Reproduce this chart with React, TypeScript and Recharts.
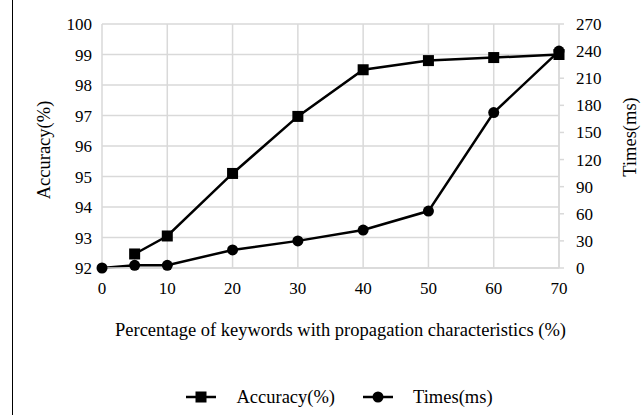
import { LineChart, Line, XAxis, YAxis, CartesianGrid, Legend } from 'recharts'

const xValues = [0, 5, 10, 20, 30, 40, 50, 60, 70]
const accuracy = [null, 92.46, 93.05, 95.1, 96.97, 98.5, 98.8, 98.9, 99.0]
const times = [0, 3, 3, 20, 30, 42, 63, 172, 240]

const xTicks = [0, 10, 20, 30, 40, 50, 60, 70]
const accTicks = [92, 93, 94, 95, 96, 97, 98, 99, 100]
const timeTicks = [0, 30, 60, 90, 120, 150, 180, 210, 240, 270]

const data = xValues.map((x, i) => ({ x, accuracy: accuracy[i], times: times[i] }))

const FONT = 'Liberation Serif'
const GRID = '#d9d9d9'

function SquareDot(props: any) {
  const { cx, cy } = props
  if (cx == null || cy == null) return null
  return <rect x={cx - 5.5} y={cy - 5.5} width={11} height={11} fill="#000" />
}

// tick text in the serif face
function SerifTick({ x, y, payload, textAnchor, verticalAnchor }: any) {
  const dy = verticalAnchor === 'start' ? '0.71em' : '0.355em'
  return (
    <text x={x} y={y} dy={dy} textAnchor={textAnchor} fontFamily={FONT} fontSize={17} fill="#000">
      {payload.value}
    </text>
  )
}

function VLabel({ viewBox, value, dx, dy }: any) {
  const cx = viewBox.x + dx
  const cy = viewBox.y + viewBox.height / 2 + (dy ?? 0)
  return (
    <text x={cx} y={cy} transform={`rotate(-90 ${cx} ${cy})`} textAnchor="middle" dominantBaseline="central"
      fontFamily={FONT} fontSize={18.5} fill="#000">{value}</text>
  )
}

function XLabel({ viewBox, value }: any) {
  const cx = viewBox.x + viewBox.width / 2 + 10
  return (
    <text x={cx} y={viewBox.y + 68} textAnchor="middle" fontFamily={FONT} fontSize={18.5} fill="#000">{value}</text>
  )
}

function LegendContent() {
  const items = [
    { name: 'Accuracy(%)', square: true },
    { name: 'Times(ms)', square: false },
  ]
  return (
    <div style={{ height: 30, display: 'flex', justifyContent: 'center', alignItems: 'center', paddingLeft: 38, fontFamily: FONT, fontSize: 18.5, color: '#000' }}>
      {items.map((it, i) => (
        <div key={it.name} style={{ display: 'flex', alignItems: 'center', marginLeft: i ? 28 : 0 }}>
          <svg width={30} height={14}>
            <line x1={0} y1={7} x2={30} y2={7} stroke="#000" strokeWidth={2.5} />
            {it.square ? <rect x={9.5} y={1.5} width={11} height={11} fill="#000" /> : <circle cx={15} cy={7} r={5.5} fill="#000" />}
          </svg>
          <span style={{ marginLeft: 20 }}>{it.name}</span>
        </div>
      ))}
    </div>
  )
}

export default function App() {
  return (
    <div style={{ position: 'absolute', left: 0, top: 0, width: 641, height: 415, background: '#fff' }}>
      <div style={{ position: 'absolute', left: 12, top: 0, width: 1, height: 415, background: '#000' }} />
      <LineChart width={641} height={415} data={data} margin={{ top: 24, right: 0, bottom: 3, left: 0 }}>
        <CartesianGrid yAxisId="left" stroke={GRID} strokeWidth={1.5} />
        <XAxis dataKey="x" type="number" domain={[0, 70]} ticks={xTicks} height={114} tick={<SerifTick />}
          axisLine={{ stroke: GRID, strokeWidth: 1.5 }} tickLine={false} tickMargin={8} interval={0}
          label={<XLabel value="Percentage of keywords with propagation characteristics (%)" />} />
        <YAxis yAxisId="left" domain={[92, 100]} ticks={accTicks} width={102} tick={<SerifTick />}
          axisLine={false} tickLine={false} tickMargin={4} interval={0}
          label={<VLabel value="Accuracy(%)" dx={44} dy={4} />} />
        <YAxis yAxisId="right" orientation="right" domain={[0, 270]} ticks={timeTicks} width={82} tick={<SerifTick />}
          axisLine={{ stroke: GRID, strokeWidth: 1.5 }} tickLine={{ stroke: GRID, strokeWidth: 1.5 }} tickSize={5} tickMargin={12} interval={0}
          label={<VLabel value="Times(ms)" dx={71} dy={-9} />} />
        <Legend verticalAlign="bottom" content={<LegendContent />} />
        <Line yAxisId="left" dataKey="accuracy" stroke="#000" strokeWidth={2.5} dot={<SquareDot />}
          isAnimationActive={false} connectNulls={false} />
        <Line yAxisId="right" dataKey="times" stroke="#000" strokeWidth={2.5} dot={{ r: 5.5, fill: '#000', stroke: '#000', strokeWidth: 0 }}
          isAnimationActive={false} />
      </LineChart>
    </div>
  )
}
